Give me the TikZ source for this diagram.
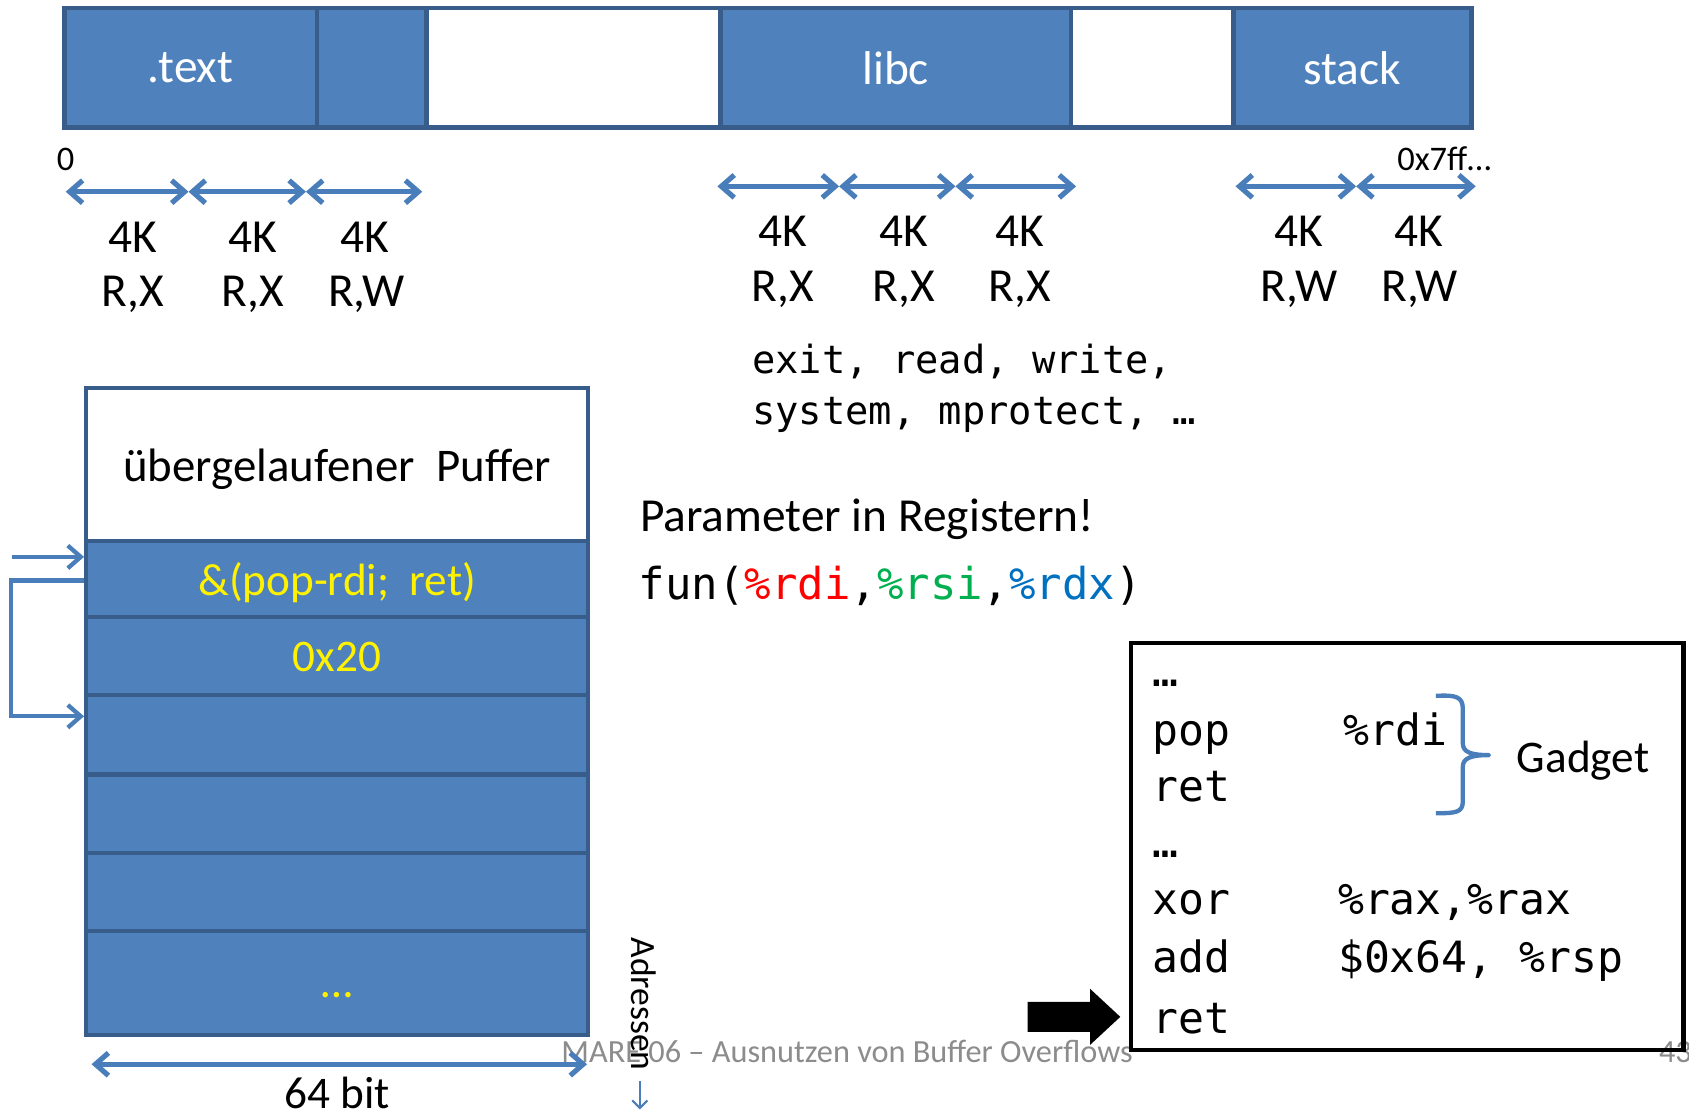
\documentclass[tikz,border=0pt]{standalone}
\usepackage{fontspec}
\setmainfont{Carlito}
\newfontfamily\monofam{DejaVu Sans Mono}
\usetikzlibrary{arrows.meta,calc}
\definecolor{segblue}{HTML}{4F81BD}
\definecolor{segborder}{HTML}{385D8A}
\definecolor{arrblue}{HTML}{4A7EBB}
\definecolor{regred}{HTML}{FF0000}
\definecolor{reggreen}{HTML}{00B050}
\definecolor{regblue}{HTML}{0070C0}
\definecolor{footgray}{HTML}{8C8C8C}
\newcommand\myfs[1]{\fontsize{#1pt}{#1pt}\selectfont}
\begin{document}
\begin{tikzpicture}[x=1pt,y=-1pt,
 seg/.style={draw=segborder, line width=4pt, fill=segblue, minimum height=111pt, inner sep=0pt, text=white, font=\myfs{44}},
 wseg/.style={seg, fill=white},
 cell/.style={draw=segborder, line width=4pt, fill=segblue, minimum width=466pt, inner sep=0pt},
 celltext/.style={anchor=base, inner sep=0pt, text=yellow, font=\myfs{42}},
 lbl/.style={anchor=base, font=\myfs{44}, inner sep=0pt},
 barb/.tip={Straight Barb[length=12pt,width=21pt]},
 dbl/.style={draw=arrblue, line width=4.8pt, barb-barb},
 sgl/.style={draw=arrblue, line width=4pt, -barb},
 code/.style={anchor=base west, font=\monofam\myfs{40}, inner sep=0pt},
 plain/.style={anchor=base west, inner sep=0pt},
]
\useasboundingbox (0,0) rectangle (1568,1032);
\fill[white] (0,0) rectangle (1568,1032);

% top memory bar
\node[seg, minimum width=234pt] (txt) at (177,63) {.text};
\node[seg, minimum width=102pt] (seg2) at (345,63) {};
\node[wseg, minimum width=273pt] (gap1) at (532.5,63) {};
\node[seg, minimum width=325pt] (libc) at (831.5,63) {libc};
\node[wseg, minimum width=151pt] (gap2) at (1069.5,63) {};
\node[seg, minimum width=221pt] (stack) at (1255.5,63) {stack};

\node[anchor=base, inner sep=0pt, font=\myfs{32}] (zero) at (61,158) {0};
\node[plain, font=\myfs{32}] (top) at (1297,158) {0x7ff…};

% page arrows
\coordinate (r1a) at (61,178); \coordinate (r1b) at (175,178);
\coordinate (r1c) at (284,178); \coordinate (r1d) at (392,178);
\draw[dbl] (r1a) -- (r1b); \draw[dbl] (r1b) -- (r1c); \draw[dbl] (r1c) -- (r1d);
\coordinate (r2a) at (666,173); \coordinate (r2b) at (779,173);
\coordinate (r2c) at (887,173); \coordinate (r2d) at (999,173);
\draw[dbl] (r2a) -- (r2b); \draw[dbl] (r2b) -- (r2c); \draw[dbl] (r2c) -- (r2d);
\coordinate (r3a) at (1147,173); \coordinate (r3b) at (1259,173);
\coordinate (r3c) at (1370,173);
\draw[dbl] (r3a) -- (r3b); \draw[dbl] (r3b) -- (r3c);

\node[lbl] (k1) at (123,234) {4K}; \node[lbl] (p1) at (123,285) {R,X};
\node[lbl] (k2) at (235,234) {4K}; \node[lbl] (p2) at (235,285) {R,X};
\node[lbl] (k3) at (339,234) {4K}; \node[lbl] (p3) at (340,285) {R,W};
\node[lbl] (k4) at (727,229) {4K}; \node[lbl] (p4) at (727,280) {R,X};
\node[lbl] (k5) at (839,229) {4K}; \node[lbl] (p5) at (839,280) {R,X};
\node[lbl] (k6) at (947,229) {4K}; \node[lbl] (p6) at (947,280) {R,X};
\node[lbl] (k7) at (1206,229) {4K}; \node[lbl] (p7) at (1206,280) {R,W};
\node[lbl] (k8) at (1317,229) {4K}; \node[lbl] (p8) at (1318,280) {R,W};

% libc functions
\node[plain, font=\monofam\myfs{36}] (sys1) at (698,347) {exit, read, write,};
\node[plain, font=\monofam\myfs{36}] (sys2) at (698,394) {system, mprotect, …};

\node[plain, font=\myfs{44}] (param) at (594,493) {Parameter in Registern!};
\node[plain, font=\monofam\myfs{40.8}] (fun) at (593,557) {fun(\textcolor{regred}{\%rdi},\textcolor{reggreen}{\%rsi},\textcolor{regblue}{\%rdx})};

% stack
\node[cell, fill=white, minimum height=142pt] (buf) at (313,431) {};
\node[anchor=base, inner sep=0pt, font=\myfs{43.5}] (buft) at (313,447) {übergelaufener\ \ Puffer};
\node[cell, minimum height=71pt] (row1) at (313,537.5) {};
\node[cell, minimum height=72pt] (row2) at (313,609) {};
\node[cell, minimum height=74pt] (row3) at (313,682) {};
\node[cell, minimum height=73pt] (row4) at (313,755.5) {};
\node[cell, minimum height=72pt] (row5) at (313,828) {};
\node[cell, minimum height=97pt] (row6) at (313,912.5) {};
\node[celltext] (t1) at (313,553) {\&(pop-rdi;\ \ ret)};
\node[celltext] (t2) at (313,623) {0x20};
\node[celltext] (t6) at (313,926) {…};

% left arrows
\coordinate (inA) at (11,517);
\draw[sgl] (inA) -- (inA -| row1.west);
\coordinate (lpy1) at (0,539); \coordinate (lpx) at (10,0); \coordinate (lpy2) at (0,665);
\draw[sgl, line join=miter] (row1.west |- lpy1) -- (lpx |- lpy1) -- (lpx |- lpy2) -- (row3.west |- lpy2);

% footer
\node[plain, text=footgray, font=\myfs{30}] (foot) at (521,986) {MARE 06 – Ausnutzen von Buffer Overflows};
\node[plain, text=footgray, font=\myfs{30}] (pnum) at (1540,986) {43};

% width arrow
\coordinate (bw1) at (85,988); \coordinate (bw2) at (545,988);
\draw[dbl] (bw1) -- (bw2);
\node[anchor=base, inner sep=0pt, font=\myfs{42}] (bits) at (313,1029) {64 bit};

% Adressen
\node[rotate=-90, inner sep=0pt, font=\myfs{33}] (adr) at (598,932) {Adressen};
\coordinate (ad1) at (594,1004); \coordinate (ad2) at (594,1030);
\draw[arrblue, line width=2pt, -{Straight Barb[length=7pt,width=14pt]}] (ad1) -- (ad2);

% gadget box
\node[draw=black, line width=4pt, minimum width=513pt, minimum height=378pt, inner sep=0pt] (gad) at (1306.5,786) {};
\node[code] (c1) at (1070,637) {…};
\node[code] (c2) at (1070,692) {pop};
\node[code] (c2b) at (1247,692) {\%rdi};
\node[code] (c3) at (1070,744) {ret};
\node[code] (c4) at (1070,796) {…};
\node[code] (c5) at (1070,849) {xor};
\node[code] (c5b) at (1242,849) {\%rax,\%rax};
\node[code] (c6) at (1070,903) {add};
\node[code] (c6b) at (1242,903) {\$0x64, \%rsp};
\node[code] (c7) at (1070,959) {ret};

\draw[arrblue, line width=4pt, line join=round]
  (1333,646) .. controls (1352,645) and (1358,647) .. (1358,658)
  -- (1358,690) .. controls (1358,698) and (1365,701) .. (1382,701)
  .. controls (1365,701) and (1358,704) .. (1358,712)
  -- (1358,744) .. controls (1358,754) and (1352,755) .. (1333,755);
\node[plain, font=\myfs{42}] (gl) at (1408,717) {Gadget};

% big black arrow
\fill[black] (954,930) -- (1012,930) -- (1012,918) -- (1040,944) -- (1012,970) -- (1012,958) -- (954,958) -- cycle;
\end{tikzpicture}
\end{document}
